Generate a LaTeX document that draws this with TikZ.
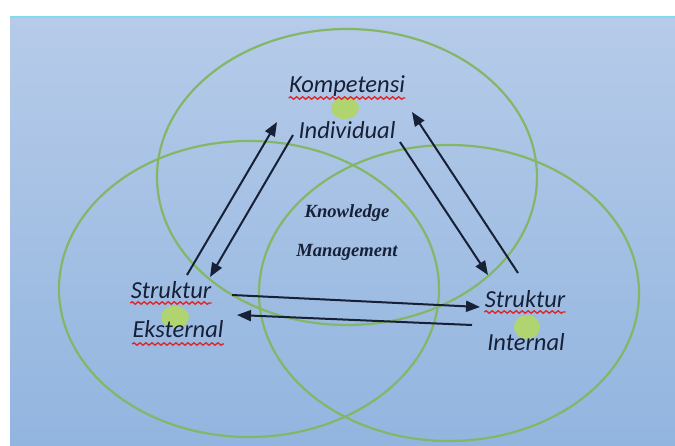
\documentclass[tikz,border=0pt]{standalone}
\usepackage{fontspec}
\setmainfont{Carlito}
\newfontfamily\kmfont{Liberation Serif}
\usetikzlibrary{calc,arrows.meta,decorations.pathmorphing}
\definecolor{bgtop}{RGB}{182,203,233}
\definecolor{bgbot}{RGB}{146,181,223}
\definecolor{ringgreen}{RGB}{132,182,104}
\definecolor{dotgreen}{RGB}{176,212,112}
\definecolor{inkblue}{RGB}{22,32,55}
\definecolor{spellred}{RGB}{222,40,45}
\tikzset{
	ring/.style={draw=ringgreen, line width=1.1pt},
	dot/.style={fill=dotgreen},
	lbl/.style={inner sep=0pt, anchor=base, text=inkblue, font=\fontsize{12.25}{14}\selectfont\itshape},
	kmlbl/.style={inner sep=0pt, text=inkblue, font=\fontsize{9.3}{11}\selectfont\kmfont\bfseries\itshape},
	flow/.style={draw=inkblue, line width=1pt, -{Triangle[length=7pt,width=5.5pt]}},
	wavy/.style={draw=spellred, line width=0.7pt, decorate, decoration={snake, amplitude=0.6pt, segment length=3pt}}
}

\begin{document}
\begin{tikzpicture}[x=0.5pt,y=0.5pt]
		%%%%% START %%%%%
		
		\useasboundingbox (0,0) rectangle (675,445);
		\shade[top color=bgtop, bottom color=bgbot] (10,0) rectangle (675,428);
		\draw[color=bgtop!70!cyan, line width=0.6pt] (10,428) -- (675,428);
		
		\draw[ring] (347,268) ellipse [x radius=95pt, y radius=74pt];
		\draw[ring] (249,156) ellipse [x radius=95pt, y radius=74pt];
		\draw[ring] (449,152) ellipse [x radius=95pt, y radius=74pt];
		
		\fill[dot] (345,337) ellipse [x radius=7pt, y radius=5.5pt];
		\fill[dot] (175,128) ellipse [x radius=7pt, y radius=5.5pt];
		\fill[dot] (527,118) ellipse [x radius=6.5pt, y radius=6pt];
		
		\node[lbl] (komp) at (347,352) {Kompetensi};
		\node[lbl] (indiv) at (347,306) {Individual};
		\node[lbl] (strukL) at (171,147) {Struktur};
		\node[lbl] (ekst) at (178,107) {Eksternal};
		\node[lbl] (strukR) at (525,138) {Struktur};
		\node[lbl] (intern) at (526,95) {Internal};
		
		\node[kmlbl] (know) at (347,232) {Knowledge};
		\node[kmlbl] (mgmt) at (347,193) {Management};
		
		\draw[wavy] ($(komp.base west)+(0,-5)$) -- ($(komp.base east)+(0,-5)$);
		\draw[wavy] ($(strukL.base west)+(0,-5)$) -- ($(strukL.base east)+(0,-5)$);
		\draw[wavy] ($(ekst.base west)+(0,-6)$) -- ($(ekst.base east)+(0,-6)$);
		\draw[wavy] ($(strukR.base west)+(0,-5)$) -- ($(strukR.base east)+(0,-5)$);
		
		\draw[flow] ($(strukL.base)+(16,23)$) -- ($(indiv.base)+(-70,17)$);
		\draw[flow] ($(indiv.base)+(-54,4)$) -- ($(strukL.base)+(39,21)$);
		\draw[flow] ($(indiv.base)+(53,-3)$) -- ($(strukR.base)+(-37,32)$);
		\draw[flow] ($(strukR.base)+(-7,34)$) -- ($(komp.base)+(65,-19)$);
		\draw[flow] ($(strukL.base)+(61,3)$) -- ($(strukR.base)+(-45,0)$);
		\draw[flow] ($(strukR.base)+(-53,-18)$) -- ($(strukL.base)+(66,-17)$);
		
		%%%%% END %%%%%
\end{tikzpicture}
\end{document}
